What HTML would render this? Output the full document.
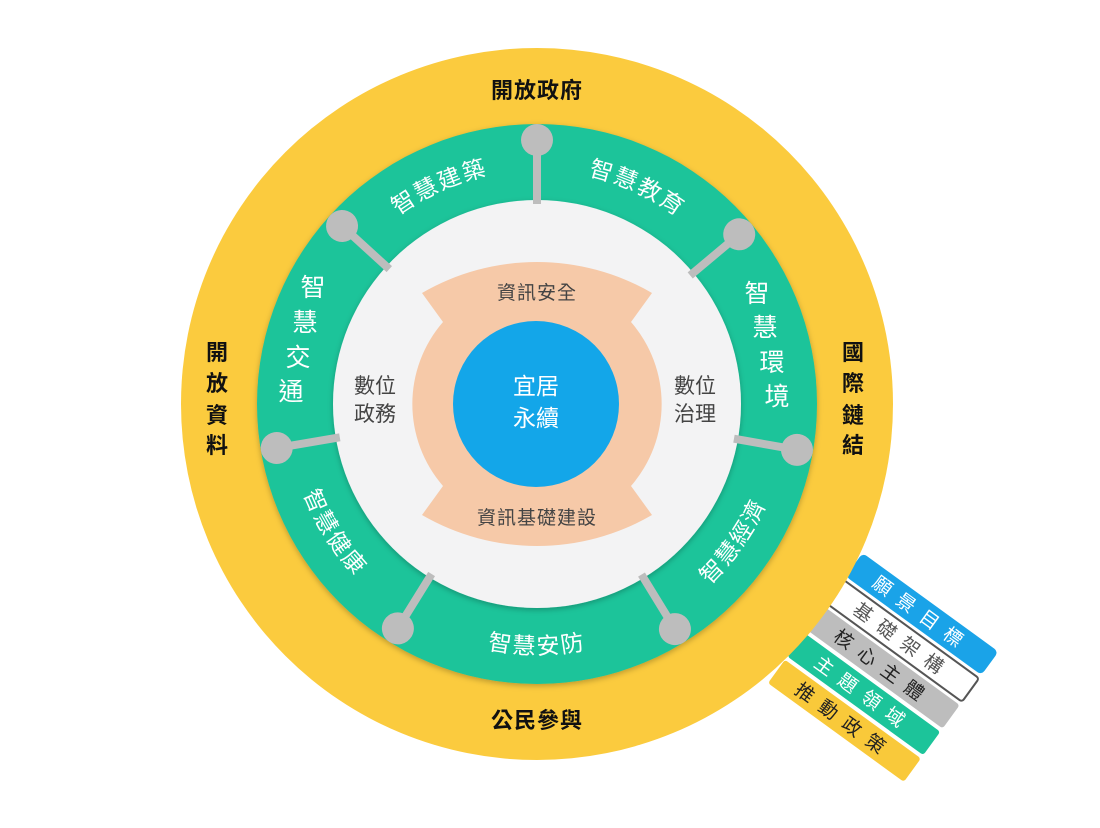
<!DOCTYPE html>
<html><head><meta charset="utf-8"><style>
html,body{margin:0;padding:0;background:#fff;}
svg{display:block;font-family:"Liberation Sans","Noto Sans CJK TC",sans-serif;}
</style></head><body>
<svg width="1100" height="828" viewBox="0 0 1100 828" xmlns="http://www.w3.org/2000/svg">
<defs>
<path id="cw" d="M 303 404 A 234 234 0 1 1 771 404 A 234 234 0 1 1 303 404"/>
<path id="ccw" d="M 287 404 A 250 250 0 1 0 787 404 A 250 250 0 1 0 287 404"/>
<filter id="sh" x="-10%" y="-10%" width="120%" height="120%"><feDropShadow dx="0" dy="2" stdDeviation="3" flood-color="#000" flood-opacity="0.25"/></filter>
</defs>

<g transform="translate(922,614) rotate(36)" font-size="19" text-anchor="middle">
  <g transform="translate(0,0)"><rect x="-84" y="-14.5" width="168" height="29" rx="5" fill="#1aa3e8"/><text x="0" y="7" fill="#fff" letter-spacing="10">願景目標</text></g>
  <g transform="translate(0,33)"><rect x="-84" y="-14.5" width="168" height="29" rx="3" fill="#fff" stroke="#555" stroke-width="2"/><text x="0" y="7" fill="#555" letter-spacing="10">基礎架構</text></g>
  <g transform="translate(0,66)"><rect x="-84" y="-14.5" width="168" height="29" rx="3" fill="#bdbdbd"/><text x="0" y="7" fill="#222" letter-spacing="10">核心主體</text></g>
  <g transform="translate(0,99)"><rect x="-84" y="-14.5" width="168" height="29" rx="3" fill="#1cc49a"/><text x="0" y="7" fill="#fff" letter-spacing="10">主題領域</text></g>
  <g transform="translate(0,132)"><rect x="-84" y="-14.5" width="168" height="29" rx="3" fill="#f9c93a"/><text x="0" y="7" fill="#222" letter-spacing="10">推動政策</text></g>
</g>

<circle cx="537" cy="404" r="356" fill="#fbcb3e"/>
<circle cx="537" cy="404" r="280" fill="#1cc49a" filter="url(#sh)"/>
<circle cx="537" cy="404" r="204" fill="#f3f3f4" filter="url(#sh)"/>

<g fill="#bdbdbd" stroke="#bdbdbd">
  <g transform="rotate(-90 537 404)"><line x1="737" y1="404" x2="801" y2="404" stroke-width="8"/><circle cx="801" cy="404" r="16" stroke="none"/></g>
  <g transform="rotate(-40 537 404)"><line x1="737" y1="404" x2="801" y2="404" stroke-width="8"/><circle cx="801" cy="404" r="16" stroke="none"/></g>
  <g transform="rotate(10 537 404)"><line x1="737" y1="404" x2="801" y2="404" stroke-width="8"/><circle cx="801" cy="404" r="16" stroke="none"/></g>
  <g transform="rotate(58.5 537 404)"><line x1="737" y1="404" x2="801" y2="404" stroke-width="8"/><circle cx="801" cy="404" r="16" stroke="none"/></g>
  <g transform="rotate(121.8 537 404)"><line x1="737" y1="404" x2="801" y2="404" stroke-width="8"/><circle cx="801" cy="404" r="16" stroke="none"/></g>
  <g transform="rotate(170.4 537 404)"><line x1="737" y1="404" x2="801" y2="404" stroke-width="8"/><circle cx="801" cy="404" r="16" stroke="none"/></g>
  <g transform="rotate(-137.6 537 404)"><line x1="737" y1="404" x2="801" y2="404" stroke-width="8"/><circle cx="801" cy="404" r="16" stroke="none"/></g>
</g>

<path d="M 443 322 L 422 293 A 229 229 0 0 1 652 293 L 631 322 A 125 125 0 0 1 631 486 L 652 515 A 229 229 0 0 1 422 515 L 443 486 A 125 125 0 0 1 443 322 Z" fill="#f6c9a8"/>
<circle cx="536" cy="404" r="83" fill="#13a6e9"/>

<g font-size="23" fill="#fff" text-anchor="middle">
  <text x="536" y="394">宜居</text>
  <text x="536" y="426">永續</text>
</g>
<g font-size="19" fill="#444" text-anchor="middle">
  <text x="537" y="299" letter-spacing="1">資訊安全</text>
  <text x="537" y="524" letter-spacing="1">資訊基礎建設</text>
</g>
<g font-size="21" fill="#444" text-anchor="middle">
  <text x="375" y="393">數位</text>
  <text x="375" y="421">政務</text>
  <text x="695" y="393">數位</text>
  <text x="695" y="421">治理</text>
</g>

<g font-size="23" fill="#fff" letter-spacing="2">
  <text><textPath href="#cw" startOffset="18.3%" text-anchor="middle">智慧建築</textPath></text>
  <text><textPath href="#cw" startOffset="31.9%" text-anchor="middle">智慧教育</textPath></text>
  <text><textPath href="#ccw" startOffset="25%" text-anchor="middle">智慧安防</textPath></text>
  <text><textPath href="#ccw" startOffset="9%" text-anchor="middle">智慧健康</textPath></text>
  <text><textPath href="#ccw" startOffset="40.3%" text-anchor="middle">智慧經濟</textPath></text>
</g>
<g font-size="25" fill="#fff" text-anchor="middle">
  <text x="313" y="296">智</text>
  <text x="305" y="331">慧</text>
  <text x="298" y="366">交</text>
  <text x="291" y="400">通</text>
  <text x="757" y="302">智</text>
  <text x="765" y="336">慧</text>
  <text x="772" y="371">環</text>
  <text x="777" y="405">境</text>
</g>

<g font-size="22" font-weight="bold" fill="#111" text-anchor="middle">
  <text x="537" y="98" letter-spacing="1">開放政府</text>
  <text x="537" y="728" letter-spacing="1">公民參與</text>
  <text x="217" y="360">開</text>
  <text x="217" y="391">放</text>
  <text x="217" y="423">資</text>
  <text x="217" y="453">料</text>
  <text x="853" y="360">國</text>
  <text x="853" y="391">際</text>
  <text x="853" y="423">鏈</text>
  <text x="853" y="453">結</text>
</g>
</svg>
</body></html>
